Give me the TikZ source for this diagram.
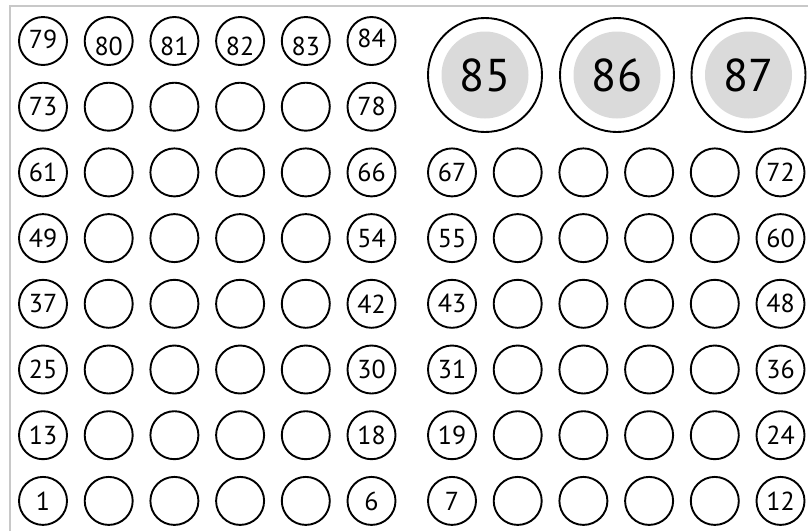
\documentclass[tikz,border=0pt]{standalone}
\usepackage{fontspec}
\setmainfont{PT Sans}
\definecolor{framegray}{RGB}{200,200,200}
\definecolor{bigfill}{RGB}{218,218,218}
\begin{document}
\begin{tikzpicture}[x=1pt,y=-1pt,
  seat/.style={circle,draw=black,line width=1.9pt,minimum size=48pt,inner sep=0pt,
    font=\fontsize{26}{26}\selectfont},
  low/.style={label={[font=\fontsize{26}{26}\selectfont,yshift=-5pt]center:#1}},
  bigseat/.style={circle,draw=black,line width=1.9pt,minimum size=114pt,inner sep=0pt},
  bigin/.style={circle,fill=bigfill,minimum size=87pt,inner sep=0pt,
    font=\fontsize{46}{46}\selectfont},
  framel/.style={draw=framegray,line width=2pt}]
\useasboundingbox (0,0) rectangle (808,531);
\coordinate (fa) at (9.5,531);
\coordinate (fb) at (9.5,6);
\coordinate (fc) at (808,6);
\draw[framel] (fa) -- (fb) -- (fc);
% rows 0..5: both blocks
\foreach \r in {0,...,5}{
  \foreach \c in {0,...,5}{
    \pgfmathtruncatemacro{\nl}{12*\r+\c+1}
    \pgfmathtruncatemacro{\nr}{12*\r+\c+7}
    \pgfmathsetmacro{\yy}{500.9-65.7*\r}
    \pgfmathsetmacro{\xl}{43+65.7*\c}
    \pgfmathsetmacro{\xr}{452+65.7*\c}
    \ifnum\c=0
      \node[seat] (s\nl) at (\xl,\yy) {\nl};
      \node[seat] (s\nr) at (\xr,\yy) {\nr};
    \else\ifnum\c=5
      \node[seat] (s\nl) at (\xl,\yy) {\nl};
      \node[seat] (s\nr) at (\xr,\yy) {\nr};
    \else
      \node[seat] (s\nl) at (\xl,\yy) {};
      \node[seat] (s\nr) at (\xr,\yy) {};
    \fi\fi
  }
}
% row 6: left block only
\foreach \c in {0,...,5}{
  \pgfmathtruncatemacro{\n}{73+\c}
  \pgfmathsetmacro{\xl}{43+65.7*\c}
  \ifnum\c=0
    \node[seat] (s\n) at (\xl,106.7) {\n};
  \else\ifnum\c=5
    \node[seat] (s\n) at (\xl,106.7) {\n};
  \else
    \node[seat] (s\n) at (\xl,106.7) {};
  \fi\fi
}
% row 7: left block, all labelled
\node[seat,label={[font=\fontsize{26}{26}\selectfont,yshift=1.5pt]center:79}] (s79) at (43,41) {};
\node[seat,low=80] (s80) at (108.7,41) {};
\node[seat,low=81] (s81) at (174.4,41) {};
\node[seat,low=82] (s82) at (240.1,41) {};
\node[seat,low=83] (s83) at (305.8,41) {};
\node[seat,label={[font=\fontsize{26}{26}\selectfont,yshift=3pt]center:84}] (s84) at (371.5,41) {};
% big seats
\foreach \n/\x in {85/485,86/617,87/748.5}{
  \node[bigseat] (s\n) at (\x,75) {};
  \node[bigin] (i\n) at (s\n.center) {\n};
}
\end{tikzpicture}
\end{document}
